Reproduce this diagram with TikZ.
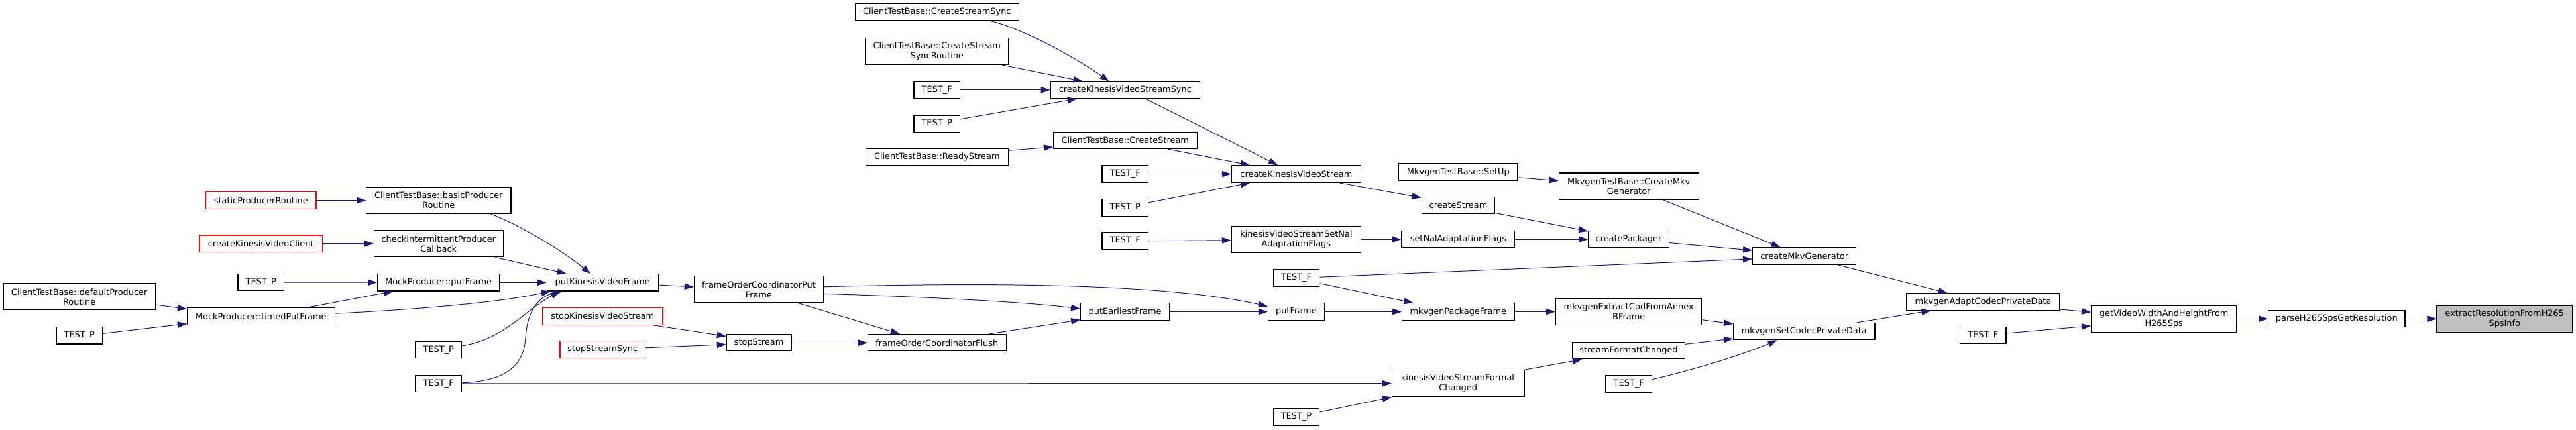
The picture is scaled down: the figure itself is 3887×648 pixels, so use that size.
\documentclass[tikz,border=0pt]{standalone}
\usepackage{fontspec}
\setmainfont{DejaVu Sans}
\usetikzlibrary{arrows.meta,calc}
\definecolor{edgeblue}{HTML}{191970}
\definecolor{hlgrey}{HTML}{BFBFBF}
\newcommand\dfont{\fontsize{12.9}{15}\selectfont}
\tikzset{
  box/.style={draw=black, line width=1.2pt, fill=white, minimum height=25.3pt, inner sep=0pt, align=center, font=\dfont},
  rbox/.style={box, draw=red},
  box2/.style={box, minimum height=40pt},
  hbox/.style={box2, fill=hlgrey},
  edge/.style={draw=edgeblue, line width=1pt, -{Triangle[length=14pt,width=9.5pt]}},
}
\begin{document}
\begin{tikzpicture}[x=1pt,y=-1pt]
\useasboundingbox (0,0) rectangle (3887,648);
% column 1
\node[box2, minimum width=229.4pt] (n_defprod) at (119.7,447.8) {ClientTestBase::defaultProducer\\Routine};
\node[box, minimum width=69.5pt] (n_testp1) at (119.8,506.4) {TEST\_P};
% column 2
\node[rbox, minimum width=166.3pt] (n_static) at (393.8,302.5) {staticProducerRoutine};
\node[rbox, minimum width=185.6pt] (n_ckvc) at (393.8,367.6) {createKinesisVideoClient};
\node[box, minimum width=69.5pt] (n_testp2) at (393.8,426.1) {TEST\_P};
\node[box, minimum width=222.7pt] (n_timed) at (393.8,477.5) {MockProducer::timedPutFrame};
% column 3
\node[box2, minimum width=218.3pt] (n_basic) at (661.8,302.5) {ClientTestBase::basicProducer\\Routine};
\node[box2, minimum width=194.7pt] (n_check) at (661.8,367.8) {checkIntermittentProducer\\Callback};
\node[box, minimum width=184pt] (n_mpput) at (661.6,426.3) {MockProducer::putFrame};
\node[box, minimum width=69.5pt] (n_testp3) at (661.8,527.9) {TEST\_P};
\node[box, minimum width=69.5pt] (n_testf1) at (661.8,578.8) {TEST\_F};
% column 4
\node[box, minimum width=168pt] (n_pkvf) at (909.2,426.3) {putKinesisVideoFrame};
\node[rbox, minimum width=181.4pt] (n_skvs) at (909.2,477.5) {stopKinesisVideoStream};
\node[rbox, minimum width=128.4pt] (n_sss) at (909.2,527.5) {stopStreamSync};
% column 5
\node[box2, minimum width=195.3pt] (n_fopf) at (1145,436.8) {frameOrderCoordinatorPut\\Frame};
\node[box, minimum width=97.6pt] (n_stop) at (1145.1,517.2) {stopStream};
% column 6
\node[box, minimum width=246.7pt] (n_css) at (1413.8,18.4) {ClientTestBase::CreateStreamSync};
\node[box2, minimum width=216.3pt] (n_cssr) at (1413.8,77.3) {ClientTestBase::CreateStream\\SyncRoutine};
\node[box, minimum width=69.5pt] (n_testf2) at (1413.7,135.8) {TEST\_F};
\node[box, minimum width=69.5pt] (n_testp4) at (1413.7,186.6) {TEST\_P};
\node[box, minimum width=214.7pt] (n_ready) at (1413.8,237.2) {ClientTestBase::ReadyStream};
\node[box, minimum width=208.7pt] (n_flush) at (1413.8,517.2) {frameOrderCoordinatorFlush};
% column 7
\node[box, minimum width=225.1pt] (n_ckvss) at (1697.8,135.8) {createKinesisVideoStreamSync};
\node[box, minimum width=216.7pt] (n_cs) at (1697.8,211.8) {ClientTestBase::CreateStream};
\node[box, minimum width=69.5pt] (n_testf3) at (1697.8,262.6) {TEST\_F};
\node[box, minimum width=69.5pt] (n_testp5) at (1697.8,313.5) {TEST\_P};
\node[box, minimum width=69.5pt] (n_testf4) at (1697.8,363.7) {TEST\_F};
\node[box, minimum width=133.9pt] (n_pef) at (1697.6,470.5) {putEarliestFrame};
% column 8
\node[box, minimum width=195.1pt] (n_ckvs) at (1955.9,262.6) {createKinesisVideoStream};
\node[box2, minimum width=195.1pt] (n_ksnal) at (1955.9,361.2) {kinesisVideoStreamSetNal\\AdaptationFlags};
\node[box, minimum width=69.5pt] (n_testf5) at (1956,419.7) {TEST\_F};
\node[box, minimum width=84.8pt] (n_putframe) at (1955.9,470.5) {putFrame};
\node[box, minimum width=69.5pt] (n_testp6) at (1956,629.3) {TEST\_P};
% column 9
\node[box, minimum width=179.3pt] (n_setup) at (2200.4,259.7) {MkvgenTestBase::SetUp};
\node[box, minimum width=110.7pt] (n_createstream) at (2200.5,310.2) {createStream};
\node[box, minimum width=170.9pt] (n_setnal) at (2200.4,361.2) {setNalAdaptationFlags};
\node[box, minimum width=169.2pt] (n_mpf) at (2200.3,470.5) {mkvgenPackageFrame};
\node[box2, minimum width=199.7pt] (n_kvsfc) at (2200.2,578.7) {kinesisVideoStreamFormat\\Changed};
% column 10
\node[box2, minimum width=210.8pt] (n_cmkvg) at (2457.7,281) {MkvgenTestBase::CreateMkv\\Generator};
\node[box, minimum width=121.2pt] (n_cpack) at (2457.5,361.2) {createPackager};
\node[box2, minimum width=220.2pt] (n_extract) at (2457.7,470.5) {mkvgenExtractCpdFromAnnex\\BFrame};
\node[box, minimum width=170pt] (n_sfc) at (2457.5,529.2) {streamFormatChanged};
\node[box, minimum width=69.5pt] (n_testf6) at (2457.7,579.6) {TEST\_F};
% column 11
\node[box, minimum width=156.2pt] (n_cmg) at (2722.7,386.4) {createMkvGenerator};
\node[box, minimum width=213.4pt] (n_setcpd) at (2722.3,500) {mkvgenSetCodecPrivateData};
% column 12
\node[box, minimum width=231.1pt] (n_adapt) at (2992.5,455.6) {mkvgenAdaptCodecPrivateData};
\node[box, minimum width=69.5pt] (n_testf7) at (2992.3,506.2) {TEST\_F};
% columns 13-15
\node[box2, minimum width=219.2pt] (n_gvw) at (3265.2,481.2) {getVideoWidthAndHeightFrom\\H265Sps};
\node[box, minimum width=206.4pt] (n_parse) at (3525.8,481.2) {parseH265SpsGetResolution};
\node[hbox, minimum width=204.7pt] (n_extractres) at (3779.3,481.2) {extractResolutionFromH265\\SpsInfo};

% edges
\draw[edge] (n_static) -- (n_basic);
\draw[edge] (n_ckvc) -- (n_check);
\draw[edge] (n_testp2) -- (n_mpput);
\draw[edge] ($(n_defprod.east)+(0,12.2)$) -- ($(n_timed.west)+(0,-11)$);
\draw[edge] ($(n_testp1.east)+(0,-3)$) -- ($(n_timed.west)+(0,11)$);
\draw[edge] ($(n_timed.north)+(69.2,0)$) -- ($(n_mpput.south)+(-68.2,0)$);
\draw[edge] ($(n_timed.east)+(0,-4.3)$) .. controls (650,466) and (760,455) .. ($(n_pkvf.south west)+(6,0)$);
\draw[edge] ($(n_basic.south)+(79,0)$) .. controls (790,342) and (850,380) .. ($(n_pkvf.north)+(-18,0)$);
\draw[edge] ($(n_check.south)+(85.5,0)$) -- ($(n_pkvf.north)+(-54.5,0)$);
\draw[edge] (n_mpput) -- (n_pkvf);
\draw[edge] ($(n_testp3.east)+(0,-6)$) .. controls (760,512) and (790,470) .. ($(n_pkvf.south west)+(20,0)$);
\draw[edge] ($(n_testf1.east)+(0,-1)$) .. controls (760,575) and (790,555) .. (793,510) .. controls (796,465) and (815,447) .. ($(n_pkvf.south west)+(24,0)$);
\draw[edge] (n_testf1) -- (n_kvsfc);
\draw[edge] ($(n_pkvf.east)+(0,3.7)$) -- ($(n_fopf.west)+(0,-3.8)$);
\draw[edge] ($(n_fopf.east)+(0,-4)$) .. controls (1500,426) and (1760,428) .. ($(n_putframe.west)+(0,-8)$);
\draw[edge] ($(n_fopf.east)+(0,6.6)$) .. controls (1400,448) and (1550,456) .. ($(n_pef.west)+(0,-4.4)$);
\draw[edge] ($(n_fopf.south)+(59,0)$) -- ($(n_flush.north)+(-56,0)$);
\draw[edge] ($(n_skvs.south)+(76,0)$) -- ($(n_stop.west)+(0,-9.8)$);
\draw[edge] ($(n_sss.east)+(0,-2.7)$) -- ($(n_stop.west)+(0,2.6)$);
\draw[edge] (n_stop) -- (n_flush);
\draw[edge] ($(n_flush.north)+(78.7,0)$) -- ($(n_pef.west)+(0,12.2)$);
\draw[edge] (n_pef) -- (n_putframe);
\draw[edge] ($(n_css.south)+(80.9,0)$) .. controls (1540,42) and (1620,85) .. ($(n_ckvss.north)+(-24.3,0)$);
\draw[edge] ($(n_cssr.south)+(97.7,0)$) -- ($(n_ckvss.north)+(-64.3,0)$);
\draw[edge] (n_testf2) -- (n_ckvss);
\draw[edge] ($(n_testp4.east)+(0,-6.8)$) -- ($(n_ckvss.south)+(-72.7,0)$);
\draw[edge] ($(n_ckvss.south)+(30.5,0)$) -- ($(n_ckvs.north)+(-27.7,0)$);
\draw[edge] ($(n_ready.east)+(0,-9.9)$) -- ($(n_cs.west)+(0,10.1)$);
\draw[edge] ($(n_cs.south)+(64.1,0)$) -- ($(n_ckvs.north)+(-69.8,0)$);
\draw[edge] (n_testf3) -- (n_ckvs);
\draw[edge] ($(n_testp5.east)+(0,-7.7)$) -- ($(n_ckvs.south)+(-69.8,0)$);
\draw[edge] (n_testf4.east) -- ($(n_ksnal.west)+(0,1.5)$);
\draw[edge] ($(n_ckvs.south)+(65.1,0)$) -- ($(n_createstream.north west)+(0,1.5)$);
\draw[edge] (n_ksnal) -- (n_setnal);
\draw[edge] ($(n_setup.east)+(0,8.1)$) -- ($(n_cmkvg.west)+(0,-8.3)$);
\draw[edge] ($(n_createstream.east)+(0,11.3)$) -- ($(n_cpack.north west)+(0,1)$);
\draw[edge] (n_setnal) -- (n_cpack);
\draw[edge] ($(n_cmkvg.south)+(51.5,0)$) -- ($(n_cmg.north)+(-36.4,0)$);
\draw[edge] ($(n_cpack.east)+(0,5.3)$) -- ($(n_cmg.west)+(0,-8.3)$);
\draw[edge] ($(n_testf5.east)+(0,-1.5)$) -- ($(n_cmg.west)+(0,4.5)$);
\draw[edge] ($(n_testf5.east)+(0,8)$) -- ($(n_mpf.north)+(-67.8,0)$);
\draw[edge] (n_putframe) -- (n_mpf);
\draw[edge] (n_mpf) -- (n_extract);
\draw[edge] ($(n_extract.east)+(0,12.2)$) -- ($(n_setcpd.west)+(0,-11)$);
\draw[edge] ($(n_sfc.east)+(0,-9.9)$) -- ($(n_setcpd.west)+(0,11)$);
\draw[edge] ($(n_testf6.east)+(0,-6.9)$) .. controls (2560,557) and (2630,535) .. ($(n_setcpd.south)+(-40.6,0)$);
\draw[edge] (n_kvsfc.north east) -- ($(n_sfc.south)+(-70.3,0)$);
\draw[edge] ($(n_testp6.east)+(0,-7.3)$) -- (n_kvsfc.south west);
\draw[edge] ($(n_cmg.south)+(49.8,0)$) -- ($(n_adapt.north)+(-53.7,0)$);
\draw[edge] ($(n_setcpd.north)+(79.7,0)$) -- ($(n_adapt.south)+(-79,0)$);
\draw[edge] ($(n_adapt.east)+(0,11.4)$) -- ($(n_gvw.west)+(0,-10)$);
\draw[edge] ($(n_testf7.east)+(0,-3.2)$) -- ($(n_gvw.west)+(0,10.6)$);
\draw[edge] (n_gvw) -- (n_parse);
\draw[edge] (n_parse) -- (n_extractres);
\end{tikzpicture}
\end{document}
